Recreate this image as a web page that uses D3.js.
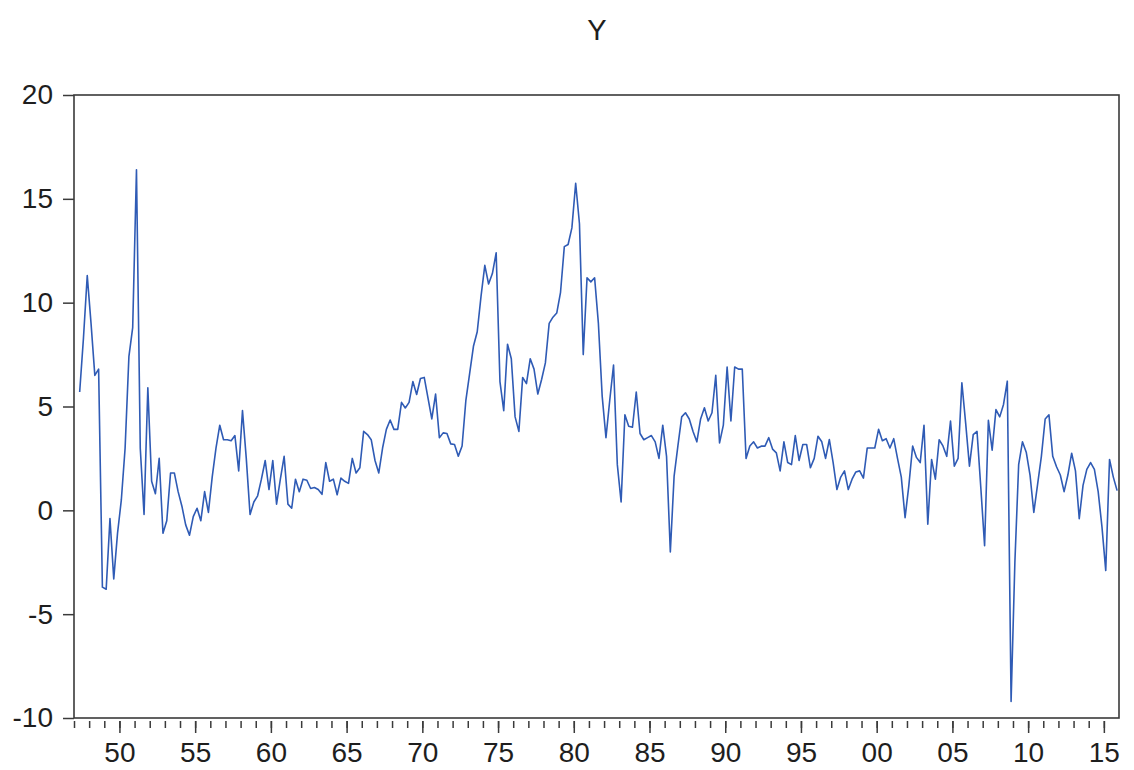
<!DOCTYPE html>
<html>
<head>
<meta charset="utf-8">
<script src="https://cdn.jsdelivr.net/npm/d3@7"></script>
<style>
  html, body { margin: 0; padding: 0; background: #ffffff; }
  svg { display: block; font-family: "Liberation Sans", Arial, sans-serif; }
</style>
</head>
<body>
<svg id="chart" width="1134" height="770"></svg>
<script>
// Quarterly series Y, 1947Q2 - 2015Q4, one array per decade.
const firstYear = 1947;
const firstQuarter = 2;
const y1940s = [5.7, 8.3, 11.3, 9.0, 6.5, 6.8, -3.7, -3.8, -0.4, -3.3, -1.1];
const y1950s = [0.5, 3.0, 7.4, 8.8, 16.4, 3.0, -0.2, 5.9, 1.4, 0.8,
                2.5, -1.1, -0.5, 1.8, 1.8, 0.9, 0.2, -0.7, -1.2, -0.3,
                0.1, -0.5, 0.9, -0.1, 1.6, 3.0, 4.1, 3.4, 3.4, 3.35,
                3.6, 1.9, 4.8, 2.5, -0.2, 0.4, 0.7, 1.5, 2.4, 1.0];
const y1960s = [2.4, 0.3, 1.5, 2.6, 0.3, 0.1, 1.5, 0.9, 1.5, 1.45,
                1.05, 1.1, 1.0, 0.77, 2.3, 1.4, 1.5, 0.75, 1.55, 1.4,
                1.3, 2.5, 1.8, 2.05, 3.8, 3.65, 3.4, 2.4, 1.8, 3.0,
                3.9, 4.35, 3.9, 3.9, 5.2, 4.93, 5.2, 6.2, 5.58, 6.35];
const y1970s = [6.4, 5.4, 4.4, 5.6, 3.5, 3.73, 3.7, 3.2, 3.17, 2.61,
                3.1, 5.3, 6.6, 7.9, 8.6, 10.3, 11.8, 10.9, 11.4, 12.4,
                6.2, 4.8, 8.0, 7.3, 4.5, 3.8, 6.4, 6.1, 7.3, 6.8,
                5.6, 6.3, 7.1, 9.0, 9.3, 9.5, 10.5, 12.7, 12.8, 13.6];
const y1980s = [15.75, 13.8, 7.5, 11.2, 11.0, 11.2, 9.0, 5.5, 3.5, 5.3,
                7.0, 2.2, 0.4, 4.6, 4.05, 4.0, 5.7, 3.7, 3.4, 3.5,
                3.6, 3.3, 2.5, 4.1, 2.6, -2.0, 1.65, 3.1, 4.5, 4.7,
                4.4, 3.8, 3.3, 4.4, 4.94, 4.3, 4.7, 6.5, 3.25, 4.1];
const y1990s = [6.9, 4.3, 6.9, 6.8, 6.8, 2.5, 3.1, 3.3, 3.0, 3.09,
                3.09, 3.5, 2.95, 2.77, 1.9, 3.3, 2.3, 2.2, 3.6, 2.4,
                3.17, 3.17, 2.05, 2.5, 3.57, 3.3, 2.5, 3.41, 2.3, 1.0,
                1.6, 1.9, 1.0, 1.5, 1.85, 1.9, 1.55, 3.0, 3.0, 3.0];
const y2000s = [3.9, 3.35, 3.45, 3.0, 3.45, 2.5, 1.6, -0.35, 1.2, 3.1,
                2.55, 2.3, 4.1, -0.67, 2.45, 1.5, 3.4, 3.1, 2.6, 4.3,
                2.13, 2.5, 6.14, 4.2, 2.13, 3.65, 3.8, 1.1, -1.7, 4.33,
                2.9, 4.85, 4.5, 5.1, 6.22, -9.2, -2.5, 2.2, 3.3, 2.8];
const y2010s = [1.7, -0.1, 1.25, 2.6, 4.4, 4.6, 2.6, 2.1, 1.7, 0.9,
                1.7, 2.75, 1.9, -0.4, 1.2, 1.97, 2.3, 1.97, 0.9, -0.8,
                -2.9, 2.45, 1.6, 0.95];

const yTickValues = [-10, -5, 0, 5, 10, 15, 20];
const yTickLabels = ["-10", "-5", "0", "5", "10", "15", "20"];
const xMajorYears = [1950, 1955, 1960, 1965, 1970, 1975, 1980, 1985, 1990,
                     1995, 2000, 2005, 2010, 2015];
const xMajorLabels = ["50", "55", "60", "65", "70", "75", "80", "85", "90",
                      "95", "00", "05", "10", "15"];
const seriesTitle = "Y";

// Build the dated observations; each quarter is placed at its midpoint.
const allValues = [].concat(y1940s, y1950s, y1960s, y1970s, y1980s, y1990s, y2000s, y2010s);
const data = allValues.map((v, i) => {
  const q = (firstQuarter - 1) + i;
  return { t: firstYear + (q + 0.5) / 4, v: v };
});

const svg = d3.select("#chart");
const plot = { left: 74, right: 1119, top: 95, bottom: 718 };

const x = d3.scaleLinear().domain([1947, 2016]).range([plot.left, plot.right]);
const y = d3.scaleLinear().domain([-10, 20]).range([plot.bottom, plot.top]);

const textColor = "#1e1e1e";
const axisColor = "#3a3a3a";
const fontFamily = "'Liberation Sans', Arial, sans-serif";

// Title
svg.append("text")
  .attr("x", 597).attr("y", 40)
  .attr("text-anchor", "middle")
  .attr("font-size", 29)
  .attr("fill", textColor)
  .text(seriesTitle);

// Left axis (plain hyphen for negative labels)
const yAxis = d3.axisLeft(y).tickValues(yTickValues).tickSize(11).tickPadding(10)
  .tickFormat((d, i) => yTickLabels[i]);
const gy = svg.append("g").attr("transform", `translate(${plot.left},0)`).call(yAxis);
gy.select(".domain").remove();
gy.selectAll(".tick line").attr("stroke", axisColor).attr("stroke-width", 1.5);
gy.selectAll(".tick text").attr("font-size", 28).attr("fill", textColor)
  .attr("font-family", fontFamily);

// Bottom axis: a short tick every year, a longer labelled tick every five years
const minorYears = d3.range(1947, 2016);
const xMinor = d3.axisBottom(x).tickValues(minorYears).tickSize(7).tickFormat("");
const gxMinor = svg.append("g").attr("transform", `translate(0,${plot.bottom + 3})`).call(xMinor);
gxMinor.select(".domain").remove();
gxMinor.selectAll(".tick line").attr("stroke", axisColor).attr("stroke-width", 1.5);

const xMajor = d3.axisBottom(x).tickValues(xMajorYears).tickSize(12).tickPadding(9)
  .tickFormat((d, i) => xMajorLabels[i]);
const gxMajor = svg.append("g").attr("transform", `translate(0,${plot.bottom + 3})`).call(xMajor);
gxMajor.select(".domain").remove();
gxMajor.selectAll(".tick line").attr("stroke", axisColor).attr("stroke-width", 1.5);
gxMajor.selectAll(".tick text").attr("font-size", 28).attr("fill", textColor)
  .attr("font-family", fontFamily);

// Series line
const line = d3.line().x(d => x(d.t)).y(d => y(d.v));
svg.append("path")
  .datum(data)
  .attr("fill", "none")
  .attr("stroke", "#2f5bb5")
  .attr("stroke-width", 1.6)
  .attr("stroke-linejoin", "round")
  .attr("d", line);

// Plot frame
svg.append("rect")
  .attr("x", plot.left).attr("y", plot.top)
  .attr("width", plot.right - plot.left).attr("height", plot.bottom - plot.top)
  .attr("fill", "none")
  .attr("stroke", axisColor)
  .attr("stroke-width", 1.6);
</script>
</body>
</html>
